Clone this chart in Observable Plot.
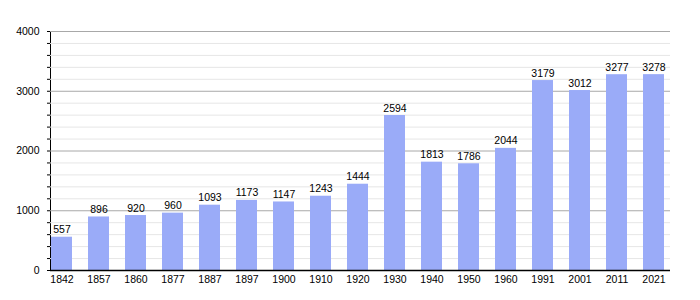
<!DOCTYPE html>
<html>
<head>
<meta charset="utf-8">
<script src="https://cdn.jsdelivr.net/npm/d3@7"></script>
<script src="https://cdn.jsdelivr.net/npm/@observablehq/plot@0.6"></script>
<style>
  html, body { margin: 0; padding: 0; background: #fff; }
  #chart svg { display: block; }
</style>
</head>
<body>
<div id="chart"></div>
<script>
const years = ["1842","1857","1860","1877","1887","1897","1900","1910","1920","1930","1940","1950","1960","1991","2001","2011","2021"];
const population = [557,896,920,960,1093,1173,1147,1243,1444,2594,1813,1786,2044,3179,3012,3277,3278];
const majorTicks = [1000,2000,3000,4000];
const minorTicks = d3.range(200, 4001, 200).filter(v => v % 1000 !== 0);

const data = years.map((y, i) => ({year: y, value: population[i]}));

const chart = Plot.plot({
  width: 700,
  height: 300,
  marginTop: 31,
  marginBottom: 30,
  marginLeft: 50,
  marginRight: 30,
  style: {fontFamily: "'Liberation Sans', Arial, sans-serif", fontSize: "10.5px", color: "#000", background: "#fff"},
  x: {
    type: "band",
    domain: years,
    range: [51, 669],
    paddingInner: 0.437,
    paddingOuter: 0,
    align: 0,
    tickSize: 0,
    tickPadding: 5,
    label: null
  },
  y: {
    domain: [0, 4000],
    ticks: d3.range(0, 4001, 200),
    tickSize: 3,
    tickPadding: 8,
    tickFormat: d => d % 1000 === 0 ? String(d) : "",
    line: true,
    label: null
  },
  marks: [
    Plot.ruleY(minorTicks, {stroke: "#e6e6e6", strokeWidth: 1}),
    Plot.ruleY(majorTicks, {stroke: "#a8a8a8", strokeWidth: 1}),
    Plot.barY(data, {x: "year", y: "value", fill: "#9aabf8"}),
    Plot.text(data, {x: "year", y: "value", text: d => String(d.value), dy: -4, lineAnchor: "bottom", fill: "#000", fontSize: 10.5}),
    Plot.ruleY([0], {stroke: "#000", strokeWidth: 1.5})
  ]
});
document.getElementById("chart").appendChild(chart);
</script>
</body>
</html>
